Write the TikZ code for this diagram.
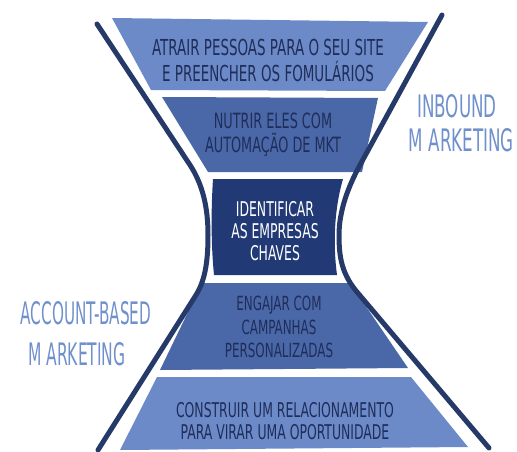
\documentclass[tikz,border=0pt]{standalone}
\usepackage{graphicx}
\usepackage{fontspec}
\newfontfamily\hand[FakeStretch=0.68]{DejaVu Sans Condensed}
\newfontfamily\handside[FakeStretch=0.6]{DejaVu Sans Condensed}
\definecolor{bandlight}{HTML}{6C8AC7}
\definecolor{bandmid}{HTML}{4A68A8}
\definecolor{banddark}{HTML}{213A75}
\definecolor{rim}{HTML}{263A69}
\definecolor{inktext}{HTML}{1F2D5A}
\definecolor{sidetext}{HTML}{7090CC}
\tikzset{
  rimline/.style={draw=rim, line width=5pt, line cap=round, line join=round},
  bandtext/.style={align=center, text=inktext, inner sep=0pt},
  sidelabel/.style={text=sidetext, inner sep=0pt, font=\handside\fontsize{31}{34}\selectfont},
}
\begin{document}
\begin{tikzpicture}[x=1pt, y=-1pt]
\useasboundingbox (0,0) rectangle (517,452);

% funnel bands, top to bottom
\path[fill=bandlight] (112,18) -- (428,22) -- (385,91) -- (151,90) -- cycle;
\path[fill=bandmid]   (162,97) -- (378,98) -- (362,172) -- (208,172) -- cycle;
\path[fill=banddark]  (213,179) -- (343,179)
   .. controls (334,210) and (333,245) .. (337,275) -- (214,275)
   .. controls (211,245) and (211,210) .. (213,179) -- cycle;
\path[fill=bandmid]   (202,283) -- (350,283) -- (408,368) -- (160,370) -- cycle;
\path[fill=bandlight] (157,377) -- (411,377) -- (468,447) -- (120,450) -- cycle;

% hourglass outline
\draw[rimline] (97,24) -- (190,165) .. controls (203,185) and (208,208) .. (208,235)
   .. controls (208,258) and (206,279) .. (196,295) -- (98,450);
\draw[rimline] (442,15) -- (360,165) .. controls (349,185) and (339,210) .. (339,235)
   .. controls (339,258) and (342,274) .. (357,292) -- (489,448);

% band texts
\node[bandtext, font=\hand\fontsize{22}{26}\selectfont] (t1) at (268,60)
  {ATRAIR PESSOAS PARA O SEU SITE\\E PREENCHER OS FOMULÁRIOS};
\node[bandtext, font=\hand\fontsize{21}{24}\selectfont] (t2) at (273,135)
  {NUTRIR ELES COM\\AUTOMAÇÃO DE MKT};
\node[bandtext, text=white, font=\hand\fontsize{20.3}{22}\selectfont] (t3) at (275,231)
  {IDENTIFICAR\\AS EMPRESAS\\CHAVES};
\node[bandtext, font=\hand\fontsize{19.5}{23.5}\selectfont] (t4) at (279,327)
  {ENGAJAR COM\\CAMPANHAS\\PERSONALIZADAS};
\node[bandtext, font=\hand\fontsize{20.3}{22}\selectfont] (t5) at (285,421)
  {CONSTRUIR UM RELACIONAMENTO\\PARA VIRAR UMA OPORTUNIDADE};

% side labels
\node[sidelabel] (inb1) at (457,106) {INBOUND};
\node[sidelabel] (inb2) at (461,140) {M\hspace{6pt}ARKETING};
\node[sidelabel] (abm1) at (86,313) {\scalebox{0.91}[1]{ACCOUNT-BASED}};
\node[sidelabel] (abm2) at (77,354) {\scalebox{0.93}[1]{M\hspace{5pt}ARKETING}};
\end{tikzpicture}
\end{document}
